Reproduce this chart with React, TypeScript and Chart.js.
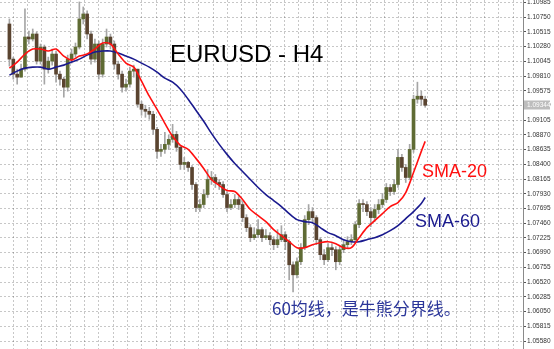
import { useEffect, useRef } from "react";
import { Chart, registerables } from "chart.js";

Chart.register(...registerables);

// EURUSD H4 candles (bar index 0 = oldest visible bar)
const OPENS = [
  1.10642, 1.10081, 1.09841, 1.09793, 1.09921, 1.10434, 1.10402, 1.10482, 1.10049, 1.10274,
  1.09921, 1.10049, 1.10162, 1.09841, 1.09761, 1.09633, 1.10081, 1.10162, 1.10274, 1.10722,
  1.10802, 1.10482, 1.10081, 1.10322, 1.09841, 1.10322, 1.10434, 1.10322, 1.10001, 1.09841,
  1.09633, 1.09681, 1.09889, 1.09921, 1.09361, 1.09280, 1.09248, 1.09200, 1.08960, 1.08608,
  1.08640, 1.08720, 1.08800, 1.08880, 1.08672, 1.08399, 1.08432, 1.08351, 1.08079, 1.07711,
  1.07759, 1.07919, 1.08159, 1.08191, 1.08111, 1.08079, 1.07919, 1.07711, 1.07759, 1.07839,
  1.07759, 1.07550, 1.07390, 1.07230, 1.07278, 1.07358, 1.07230, 1.07262, 1.07198, 1.07118,
  1.07198, 1.07278, 1.07166, 1.06797, 1.06637, 1.06846, 1.07070, 1.07518, 1.07646, 1.07550,
  1.07198, 1.06958, 1.06878, 1.07070, 1.07038, 1.06846, 1.07038, 1.07118, 1.07166, 1.07198,
  1.07438, 1.07775, 1.07759, 1.07646, 1.07550, 1.07679, 1.07759, 1.07839, 1.08031, 1.07967,
  1.08079, 1.08512, 1.08351, 1.08191, 1.08640, 1.09441, 1.09489, 1.09441,
];
const HIGHS = [
  1.10722, 1.10113, 1.09921, 1.10001, 1.10882, 1.10530, 1.10562, 1.10514, 1.10322, 1.10306,
  1.10113, 1.10242, 1.10210, 1.09889, 1.09793, 1.10145, 1.10242, 1.10338, 1.10994, 1.10914,
  1.10850, 1.10530, 1.10402, 1.10370, 1.10402, 1.10562, 1.10482, 1.10370, 1.10049, 1.09889,
  1.09761, 1.09953, 1.09985, 1.09921, 1.09409, 1.09345, 1.09312, 1.09248, 1.08992, 1.08720,
  1.08912, 1.08864, 1.09040, 1.08928, 1.08704, 1.08512, 1.08447, 1.08383, 1.08111, 1.07839,
  1.07999, 1.08319, 1.08287, 1.08239, 1.08159, 1.08127, 1.07967, 1.07839, 1.07919, 1.07887,
  1.07807, 1.07598, 1.07438, 1.07390, 1.07518, 1.07390, 1.07358, 1.07310, 1.07246, 1.07358,
  1.07422, 1.07326, 1.07198, 1.06846, 1.06910, 1.07134, 1.07582, 1.07759, 1.07711, 1.07582,
  1.07230, 1.07038, 1.07134, 1.07134, 1.07086, 1.07102, 1.07198, 1.07246, 1.07278, 1.07486,
  1.07839, 1.07839, 1.07807, 1.07711, 1.07759, 1.07839, 1.07935, 1.08095, 1.08079, 1.08159,
  1.08640, 1.08560, 1.08399, 1.08720, 1.09505, 1.09713, 1.09569, 1.09489,
];
const LOWS = [
  1.09969, 1.09761, 1.09681, 1.09793, 1.09889, 1.10322, 1.10370, 1.10001, 1.10001, 1.09681,
  1.09857, 1.09985, 1.09713, 1.09665, 1.09473, 1.09569, 1.10017, 1.10113, 1.10242, 1.10642,
  1.10402, 1.10001, 1.10033, 1.09761, 1.09793, 1.10274, 1.10242, 1.09921, 1.09761, 1.09553,
  1.09569, 1.09633, 1.09793, 1.09312, 1.09184, 1.09152, 1.09120, 1.08880, 1.08496, 1.08528,
  1.08576, 1.08640, 1.08752, 1.08608, 1.08319, 1.08319, 1.08287, 1.07999, 1.07646, 1.07646,
  1.07711, 1.07871, 1.08079, 1.08031, 1.07999, 1.07871, 1.07646, 1.07679, 1.07711, 1.07679,
  1.07486, 1.07326, 1.07166, 1.07198, 1.07230, 1.07166, 1.07198, 1.07118, 1.07038, 1.07070,
  1.07166, 1.07038, 1.06557, 1.06365, 1.06589, 1.06797, 1.07038, 1.07438, 1.07486, 1.07118,
  1.06878, 1.06797, 1.06846, 1.06942, 1.06717, 1.06797, 1.06990, 1.07070, 1.07118, 1.07150,
  1.07390, 1.07646, 1.07582, 1.07406, 1.07486, 1.07614, 1.07711, 1.07791, 1.07903, 1.07919,
  1.08031, 1.08287, 1.08111, 1.08159, 1.08592, 1.09377, 1.09345, 1.09312,
];
const CLOSES = [
  1.10081, 1.09841, 1.09793, 1.09921, 1.10434, 1.10402, 1.10482, 1.10049, 1.10274, 1.09921,
  1.10049, 1.10162, 1.09841, 1.09761, 1.09633, 1.10081, 1.10162, 1.10274, 1.10722, 1.10802,
  1.10482, 1.10081, 1.10322, 1.09841, 1.10322, 1.10434, 1.10322, 1.10001, 1.09841, 1.09633,
  1.09681, 1.09889, 1.09921, 1.09361, 1.09280, 1.09248, 1.09200, 1.08960, 1.08608, 1.08640,
  1.08720, 1.08800, 1.08880, 1.08672, 1.08399, 1.08432, 1.08351, 1.08079, 1.07711, 1.07759,
  1.07919, 1.08159, 1.08191, 1.08111, 1.08079, 1.07919, 1.07711, 1.07759, 1.07839, 1.07759,
  1.07550, 1.07390, 1.07230, 1.07278, 1.07358, 1.07230, 1.07262, 1.07198, 1.07118, 1.07198,
  1.07278, 1.07166, 1.06797, 1.06637, 1.06846, 1.07070, 1.07518, 1.07646, 1.07550, 1.07198,
  1.06958, 1.06878, 1.07070, 1.07038, 1.06846, 1.07038, 1.07118, 1.07166, 1.07198, 1.07438,
  1.07775, 1.07759, 1.07646, 1.07550, 1.07679, 1.07759, 1.07839, 1.08031, 1.07967, 1.08079,
  1.08512, 1.08351, 1.08191, 1.08640, 1.09441, 1.09489, 1.09441, 1.09344,
];

// Moving averages, sampled at these bar indices
const MA_BARS = [
  0, 2, 4, 6, 8, 10, 12, 14, 16, 18, 20, 22, 24, 26, 28, 30, 32, 34, 36, 38,
  40, 42, 44, 46, 48, 50, 52, 54, 56, 58, 60, 62, 64, 66, 68, 70, 72, 74, 76, 78,
  80, 82, 84, 86, 88, 90, 92, 94, 96, 98, 100, 102, 104, 106, 107,
];
const SMA20 = [
  1.09937, 1.10033, 1.10162, 1.10242, 1.10242, 1.10210, 1.10242, 1.10129, 1.10065, 1.10129,
  1.10162, 1.10242, 1.10338, 1.10322, 1.10162, 1.10017, 1.09953, 1.09729, 1.09489, 1.09280,
  1.09056, 1.08848, 1.08704, 1.08640, 1.08496, 1.08335, 1.08159, 1.08063, 1.07983, 1.07967,
  1.07839, 1.07679, 1.07582, 1.07486, 1.07358, 1.07262, 1.07166, 1.07070, 1.07070, 1.07118,
  1.07150, 1.07166, 1.07134, 1.07070, 1.07070, 1.07230, 1.07390, 1.07502, 1.07614, 1.07727,
  1.07791, 1.07951, 1.08271, 1.08608, 1.08768,
];
const SMA60 = [
  1.09825, 1.09889, 1.09937, 1.09953, 1.09953, 1.09921, 1.09953, 1.09985, 1.10033, 1.10081,
  1.10145, 1.10194, 1.10210, 1.10210, 1.10178, 1.10129, 1.10081, 1.10017, 1.09953, 1.09873,
  1.09777, 1.09713, 1.09601, 1.09441, 1.09264, 1.09088, 1.08896, 1.08720, 1.08560, 1.08415,
  1.08287, 1.08159, 1.08031, 1.07919, 1.07823, 1.07727, 1.07614, 1.07518, 1.07486, 1.07470,
  1.07390, 1.07310, 1.07262, 1.07198, 1.07166, 1.07166, 1.07198, 1.07230, 1.07278, 1.07342,
  1.07422, 1.07534, 1.07646, 1.07775, 1.07871,
];

// Price scale labels on the right
const PRICE_TICKS = [
  1.0558, 1.05815, 1.0605, 1.06285, 1.0652, 1.06755, 1.0699, 1.07225, 1.0746, 1.07695,
  1.0793, 1.08165, 1.084, 1.08635, 1.0887, 1.09105, 1.0934, 1.09575, 1.0981, 1.10045,
  1.1028, 1.10515, 1.1075, 1.10985,
];
const LAST_PRICE = 1.09344;

const BULL = "#5f6b34";
const BEAR = "#5a4430";
const WICK = "#a6a6a6";
const GRID = "rgba(0,0,0,0.22)";

const lastPriceTag = {
  id: "lastPriceTag",
  afterDraw(chart: any) {
    const { ctx, scales } = chart;
    const y = scales.y.getPixelForValue(LAST_PRICE);
    const x = scales.y.left + 1;
    ctx.save();
    ctx.fillStyle = "#bdbdbd";
    ctx.fillRect(x, Math.round(y) - 4.5, 26, 9);
    ctx.fillStyle = "#ffffff";
    ctx.font = "6.5px 'Liberation Sans', Arial, sans-serif";
    ctx.textBaseline = "middle";
    ctx.fillText(LAST_PRICE.toFixed(5), x + 3, Math.round(y));
    ctx.restore();
  },
};

export default function App() {
  const ref = useRef<HTMLCanvasElement>(null);

  useEffect(() => {
    document.body.style.margin = "0";
    const idx = CLOSES.map((_, i) => i);
    const chart = new Chart(ref.current as HTMLCanvasElement, {
      type: "bar",
      data: {
        datasets: [
          {
            type: "line",
            label: "SMA-20",
            data: MA_BARS.map((b, k) => ({ x: b, y: SMA20[k] })),
            borderColor: "#ff1010",
            borderWidth: 1.6,
            pointRadius: 0,
            tension: 0.3,
            order: 0,
          } as any,
          {
            type: "line",
            label: "SMA-60",
            data: MA_BARS.map((b, k) => ({ x: b, y: SMA60[k] })),
            borderColor: "#1a1a8e",
            borderWidth: 1.6,
            pointRadius: 0,
            tension: 0.3,
            order: 1,
          } as any,
          {
            label: "body",
            data: idx.map((i) => ({ x: i, y: [OPENS[i], CLOSES[i]] })),
            backgroundColor: idx.map((i) => (CLOSES[i] >= OPENS[i] ? BULL : BEAR)),
            barThickness: 3,
            minBarLength: 1,
            grouped: false,
            order: 2,
          } as any,
          {
            label: "wick",
            data: idx.map((i) => ({ x: i, y: [LOWS[i], HIGHS[i]] })),
            backgroundColor: WICK,
            barThickness: 1,
            grouped: false,
            order: 3,
          } as any,
        ],
      },
      options: {
        responsive: false,
        animation: false,
        devicePixelRatio: 1,
        layout: { padding: 0 },
        plugins: { legend: { display: false }, tooltip: { enabled: false } },
        scales: {
          x: {
            type: "linear",
            min: -0.5,
            max: 130.25,
            ticks: { display: false },
            grid: { color: GRID, drawTicks: false, lineWidth: 1 },
            border: { display: false, dash: [2, 2] },
            afterBuildTicks(scale: any) {
              const t = [];
              for (let k = 0; k <= 34; k++) t.push({ value: 2.825 + 3.6765 * k });
              scale.ticks = t;
            },
            afterFit(scale: any) {
              scale.height = 0;
              scale.paddingLeft = 0;
              scale.paddingRight = 0;
            },
          },
          y: {
            type: "linear",
            position: "right",
            min: 1.054523,
            max: 1.110249,
            grid: { color: GRID, tickColor: "#555555", tickLength: 3, tickBorderDash: [] },
            border: { display: true, color: "#8a8a8a", width: 1, dash: [2, 2] },
            ticks: {
              color: "#333333",
              padding: 1,
              font: { size: 6.5, family: "'Liberation Sans', Arial, sans-serif" },
              autoSkip: false,
              callback: (v: any) => Number(v).toFixed(5),
            },
            afterBuildTicks(scale: any) {
              scale.ticks = PRICE_TICKS.map((v) => ({ value: v }));
            },
            afterFit(scale: any) {
              scale.width = 31;
              scale.paddingTop = 0;
              scale.paddingBottom = 0;
            },
          },
        },
      },
      plugins: [lastPriceTag],
    });
    return () => chart.destroy();
  }, []);

  return (
    <div style={{ position: "relative", width: 554, height: 349, background: "#ffffff", overflow: "hidden" }}>
      <canvas ref={ref} width={554} height={349} style={{ position: "absolute", left: 0, top: 0 }} />
      <div
        style={{
          position: "absolute", left: 170, top: 42, fontSize: 24, lineHeight: "24px",
          fontFamily: "'Liberation Sans', Arial, sans-serif", color: "#000000", whiteSpace: "nowrap",
        }}
      >
        EURUSD - H4
      </div>
      <div
        style={{
          position: "absolute", left: 422, top: 162, fontSize: 18, lineHeight: "18px",
          fontFamily: "'Liberation Sans', Arial, sans-serif", color: "#ff1010", whiteSpace: "nowrap",
        }}
      >
        SMA-20
      </div>
      <div
        style={{
          position: "absolute", left: 415, top: 212, fontSize: 18, lineHeight: "18px",
          fontFamily: "'Liberation Sans', Arial, sans-serif", color: "#1a1a8e", whiteSpace: "nowrap",
        }}
      >
        SMA-60
      </div>
      <div
        style={{
          position: "absolute", left: 272, top: 299, fontSize: 17, lineHeight: "17px",
          fontFamily: "'Noto Sans CJK SC', sans-serif", color: "#2a3599", whiteSpace: "nowrap",
        }}
      >
        60均线，是牛熊分界线。
      </div>
    </div>
  );
}
